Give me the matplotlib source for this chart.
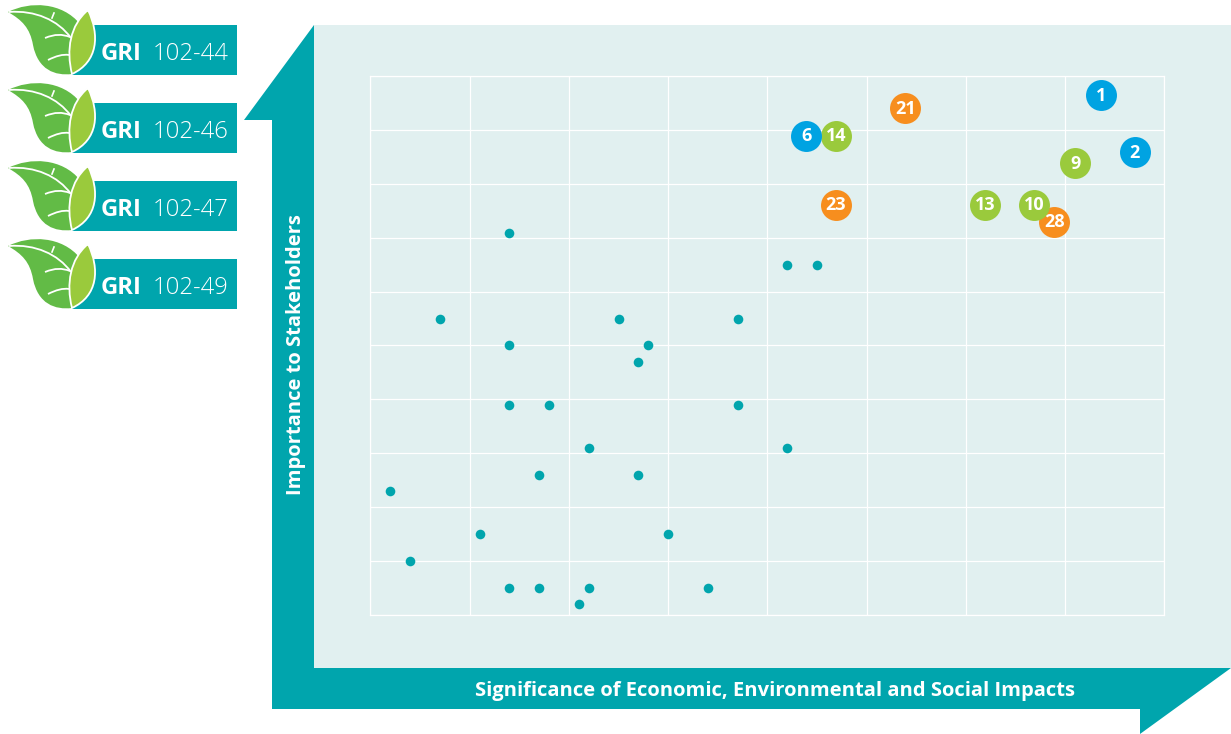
import matplotlib
matplotlib.use("Agg")
import matplotlib.pyplot as plt
from matplotlib.patches import Polygon, Rectangle, PathPatch
from matplotlib.path import Path

plt.rcParams['font.family'] = ['Open Sans', 'DejaVu Sans']

TEAL = '#00A5AD'
PANEL = '#E1F0F0'
LEAF_DARK = '#62BB46'
LEAF_LIGHT = '#9ACA3C'

gri_labels = ['102-44', '102-46', '102-47', '102-49']
bar_tops = [25, 103, 181, 259]

x_label = 'Significance of Economic, Environmental and Social Impacts'
y_label = 'Importance to Stakeholders'

# numbered topics, drawn in this order (later ones sit on top)
orange_ids = ['21', '23', '28']
orange_x = [5.39, 4.69, 6.89]
orange_y = [9.41, 7.62, 7.30]

green_ids = ['14', '9', '13', '10']
green_x = [4.69, 7.10, 6.19, 6.69]
green_y = [8.90, 8.39, 7.62, 7.62]

blue_ids = ['1', '2', '6']
blue_x = [7.36, 7.70, 4.39]
blue_y = [9.65, 8.60, 8.90]

# small unnumbered topics
dot_x = [1.4, 4.2, 4.5, 0.7, 2.5, 3.7, 1.4, 2.8, 2.7, 1.4, 1.8, 3.7, 2.2,
         4.2, 1.7, 2.7, 0.2, 1.1, 3.0, 0.4, 1.4, 1.7, 2.2, 3.4, 2.1]
dot_y = [7.1, 6.5, 6.5, 5.5, 5.5, 5.5, 5.0, 5.0, 4.7, 3.9, 3.9, 3.9, 3.1,
         3.1, 2.6, 2.6, 2.3, 1.5, 1.5, 1.0, 0.5, 0.5, 0.5, 0.5, 0.2]


def draw_leaf(ax, top):
    # top is the y of the bar the leaf belongs to
    dy = top - 25
    M, C = Path.MOVETO, Path.CURVE4

    dark = [(8, 12), (30, 1), (62, 2), (80, 24), (90, 40), (85, 65), (72, 74),
            (55, 76), (38, 70), (33, 45), (30, 28), (22, 20), (8, 12)]
    ax.add_patch(PathPatch(Path([(x, y + dy) for x, y in dark], [M] + [C] * 12),
                           fc=LEAF_DARK, ec='none', zorder=3))

    veins = [[(9, 12), (35, 10), (58, 20), (71, 38)],
             [(45, 38), (55, 34), (62, 34), (70, 37)],
             [(48, 60), (56, 56), (63, 54), (69, 55)]]
    for v in veins:
        ax.add_patch(PathPatch(Path([(x, y + dy) for x, y in v], [M, C, C, C]),
                               fc='none', ec='white', lw=1.3, zorder=4))
    ax.plot([52, 54], [18 + dy, 13 + dy], color='white', lw=1.2, zorder=4)

    light = [(88, 10), (100, 35), (98, 62), (72, 74),
             (66, 50), (70, 25), (88, 10)]
    ax.add_patch(PathPatch(Path([(x, y + dy) for x, y in light], [M] + [C] * 6),
                           fc=LEAF_LIGHT, ec='white', lw=1.3, zorder=5))


fig = plt.figure(figsize=(12.31, 7.34), dpi=100)

# furniture in pixel coordinates of the reference
bg = fig.add_axes([0, 0, 1, 1], zorder=0)
bg.set_xlim(0, 1231)
bg.set_ylim(734, 0)
bg.axis('off')

bg.add_patch(Rectangle((314, 25), 917, 643, fc=PANEL, ec='none', zorder=1))
bg.add_patch(Polygon([(314, 25), (244, 120), (272, 120), (272, 709), (1140, 709),
                      (1140, 734), (1231, 668), (314, 668)],
                     closed=True, fc=TEAL, ec='none', zorder=2))

for top, label in zip(bar_tops, gri_labels):
    bg.add_patch(Rectangle((72, top), 165, 50, fc=TEAL, ec='none', zorder=2))
    draw_leaf(bg, top)
    bg.text(101, top + 29.5, 'GRI', color='white', fontsize=17.2, fontweight='bold',
            va='center', ha='left', zorder=6)
    bg.text(153, top + 29.5, label, color='white', fontsize=17.2, fontweight='light',
            va='center', ha='left', zorder=6)

bg.text(775, 691, x_label, color='white', fontsize=14.5, fontweight='bold',
        ha='center', va='center', zorder=6)
bg.text(296, 355, y_label, color='white', fontsize=14.5, fontweight='bold',
        rotation=90, ha='center', va='center', zorder=6)

# the actual plot
ax = fig.add_axes([370.4 / 1231, 1 - 614.5 / 734, 794 / 1231, 538 / 734], zorder=1)
ax.patch.set_alpha(0)
ax.set_xlim(0, 8)
ax.set_ylim(0, 10)
ax.set_xticks(range(0, 9))
ax.set_yticks(range(0, 11))
ax.tick_params(length=0, labelbottom=False, labelleft=False)
ax.grid(color='white', lw=0.9, zorder=1)
ax.set_axisbelow(True)
for s in ax.spines.values():
    s.set_color('white')
    s.set_linewidth(0.9)

ax.scatter(dot_x, dot_y, s=48, color=TEAL, linewidths=0, zorder=3, clip_on=False)

z = 4
for ids, xs, ys, col in [(orange_ids, orange_x, orange_y, '#F78E1E'),
                         (green_ids, green_x, green_y, LEAF_LIGHT),
                         (blue_ids, blue_x, blue_y, '#00A3E2')]:
    ax.scatter(xs, ys, s=497, color=col, linewidths=0, zorder=z, clip_on=False)
    for i, x, y in zip(ids, xs, ys):
        ax.annotate(i, (x, y), xytext=(0, -0.5), textcoords='offset points',
                    color='white', fontsize=13, fontweight='bold',
                    ha='center', va='center', zorder=z + 0.5)
    z += 1

fig.savefig('out.png', dpi=100)
plt.close()
